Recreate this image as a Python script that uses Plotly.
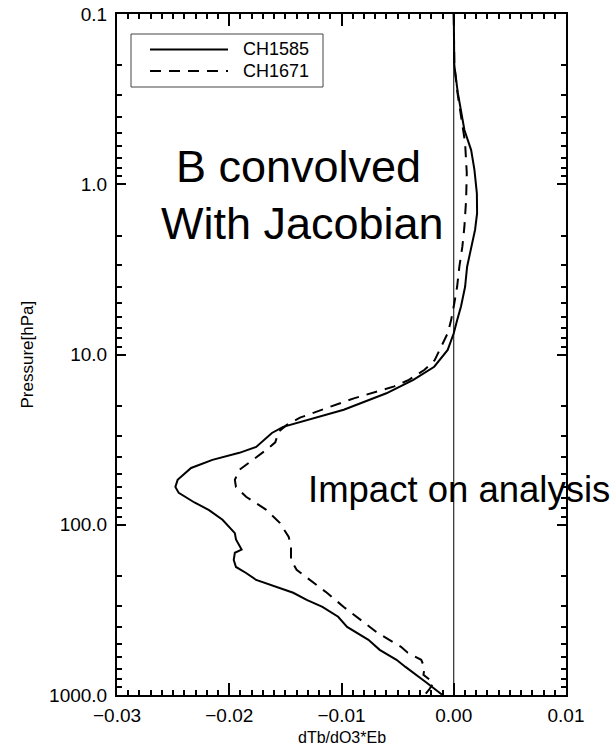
import plotly.graph_objects as go

# Channel CH1585: pressure levels [hPa] and dTb/dO3*Eb
pressure_1585 = [0.1, 0.2, 0.29, 0.38, 0.48, 0.63, 0.82, 1.13, 1.48, 1.85, 2.32, 3.05,
                 4.0, 5.2, 6.3, 7.5, 9.4, 11.8, 14.1, 16.9, 21.1, 24.2, 26.6, 28.9,
                 34.9, 37.8, 41.6, 46.4, 54.5, 60.0, 65.0, 74.0, 82.0, 93.5, 112.0,
                 122.0, 140.0, 146.0, 161.0, 177.0, 192.0, 211.0, 232.0, 251.0, 276.0,
                 304.0, 347.0, 398.0, 474.0, 543.0, 621.0, 684.0, 838.0, 1000.0]
dtb_1585 = [0.0, 0.00005, 0.00036, 0.00065, 0.00095, 0.00155, 0.00184, 0.00206, 0.00208,
            0.0019, 0.00155, 0.00119, 0.00101, 0.00065, 0.0003, 0.0, -0.00054, -0.00174,
            -0.0036, -0.0060, -0.0098, -0.0131, -0.0152, -0.0162, -0.0176, -0.0191,
            -0.0215, -0.0234, -0.0246, -0.0248, -0.0245, -0.0231, -0.0218, -0.0206,
            -0.0195, -0.0194, -0.0189, -0.0195, -0.0196, -0.0194, -0.0185, -0.0176,
            -0.0158, -0.0143, -0.0131, -0.0117, -0.0103, -0.0095, -0.0076, -0.0066,
            -0.0051, -0.0043, -0.0025, -0.0010]

# Channel CH1671
pressure_1671 = [0.1, 0.2, 0.29, 0.37, 0.48, 0.57, 0.86, 1.24, 1.77, 2.32, 3.05, 4.0,
                 5.0, 6.3, 7.5, 9.0, 10.8, 12.3, 14.1, 15.4, 16.9, 18.1, 20.6, 23.5,
                 26.0, 28.4, 32.8, 36.3, 41.6, 47.6, 54.5, 60.0, 68.5, 81.7, 97.5,
                 118.0, 135.0, 161.0, 184.0, 211.0, 251.0, 304.0, 361.0, 431.0, 521.0,
                 565.0, 621.0, 692.0, 761.0, 847.0, 931.0, 1000.0]
dtb_1671 = [0.0, 0.00005, 0.00033, 0.00059, 0.0008, 0.00101, 0.00116, 0.0011, 0.00095,
            0.00077, 0.0005, 0.0003, 0.00005, -0.00024, -0.00054, -0.0011, -0.0017,
            -0.0026, -0.0040, -0.0053, -0.0074, -0.0089, -0.0113, -0.0137, -0.0149,
            -0.0156, -0.0159, -0.0167, -0.0179, -0.0191, -0.0195, -0.0194, -0.0185,
            -0.0167, -0.0155, -0.0147, -0.0145, -0.0145, -0.0140, -0.0128, -0.0113,
            -0.0098, -0.0083, -0.0068, -0.0047, -0.0041, -0.0029, -0.0026, -0.0027,
            -0.0018, -0.0022, -0.0026]

series_names = ["CH1585", "CH1671"]

W, H = 616, 747
L, R, T, B = 117, 566, 14, 695          # plot area in pixels
FONT = "Liberation Sans, Arial, Helvetica, sans-serif"


def px(xp):
    return (xp - L) / (R - L)


def py(yp):
    return 1 - (yp - T) / (B - T)


fig = go.Figure()
fig.add_trace(go.Scatter(x=dtb_1585, y=pressure_1585, mode="lines", name=series_names[0],
                         line=dict(color="black", width=2), showlegend=False))
fig.add_trace(go.Scatter(x=dtb_1671, y=pressure_1671, mode="lines", name=series_names[1],
                         line=dict(color="black", width=2, dash="11px,8px"),
                         showlegend=False))

axis_common = dict(showline=True, linecolor="black", linewidth=2, mirror="ticks",
                   ticks="inside", tickcolor="black", tickwidth=2, showgrid=False,
                   zeroline=False, automargin=False,
                   tickfont=dict(family=FONT, size=19, color="black"))

fig.update_xaxes(range=[-0.03, 0.01], tickmode="linear", tick0=-0.03, dtick=0.01,
                 tickformat=".2f", ticklen=12, ticklabelstandoff=2,
                 minor=dict(ticks="inside", ticklen=5, tickwidth=2, tickcolor="black",
                            dtick=0.001, tick0=0, showgrid=False),
                 **axis_common)
fig.update_yaxes(type="log", range=[3, -1], autorange=False, tickmode="linear", tick0=0,
                 dtick=1, tickformat=".1f", ticklen=9, ticklabelstandoff=4,
                 minor=dict(ticks="inside", ticklen=5, tickwidth=2, tickcolor="black",
                            dtick="D1", showgrid=False),
                 **axis_common)

# zero reference line
fig.add_shape(type="line", xref="x", yref="paper", x0=0, x1=0, y0=0, y1=1,
              line=dict(color="black", width=1))

# legend box drawn by hand so the line samples have full length
fig.add_shape(type="rect", xref="paper", yref="paper", x0=px(131), x1=px(323),
              y0=py(87), y1=py(34), line=dict(color="#444444", width=1),
              fillcolor="white")
legend_rows = [(49.5, "solid"), (71, "11px,8px")]
for (row_y, dash), name in zip(legend_rows, series_names):
    fig.add_shape(type="line", xref="paper", yref="paper", x0=px(150), x1=px(228),
                  y0=py(row_y), y1=py(row_y), line=dict(color="black", width=2, dash=dash))
    fig.add_annotation(xref="paper", yref="paper", x=px(241), y=py(row_y), text=name,
                       showarrow=False, xanchor="left", yanchor="middle",
                       font=dict(family=FONT, size=18, color="black"))

# text labels
fig.add_annotation(xref="paper", yref="paper", x=px(298), y=py(167), text="B convolved",
                   showarrow=False, xanchor="center", yanchor="middle",
                   font=dict(family=FONT, size=45, color="black"))
fig.add_annotation(xref="paper", yref="paper", x=px(302), y=py(224), text="With Jacobian",
                   showarrow=False, xanchor="center", yanchor="middle",
                   font=dict(family=FONT, size=45, color="black"))
fig.add_annotation(xref="paper", yref="paper", x=px(306), y=py(489),
                   text="Impact on analysis", showarrow=False, xanchor="left",
                   yanchor="middle", font=dict(family=FONT, size=36.5, color="black"))

# axis titles, centred on their axes
fig.add_annotation(xref="paper", yref="paper", x=0.5, y=py(737), text="dTb/dO3*Eb",
                   showarrow=False, xanchor="center", yanchor="middle",
                   font=dict(family=FONT, size=16, color="black"))
fig.add_annotation(xref="paper", yref="paper", x=px(27), y=0.5, text="Pressure[hPa]",
                   showarrow=False, textangle=-90, xanchor="center", yanchor="middle",
                   font=dict(family=FONT, size=17, color="black"))

fig.update_layout(width=W, height=H, margin=dict(l=L, r=W - R, t=T, b=H - B),
                  paper_bgcolor="white", plot_bgcolor="white", showlegend=False)

fig.write_html("out.html")
